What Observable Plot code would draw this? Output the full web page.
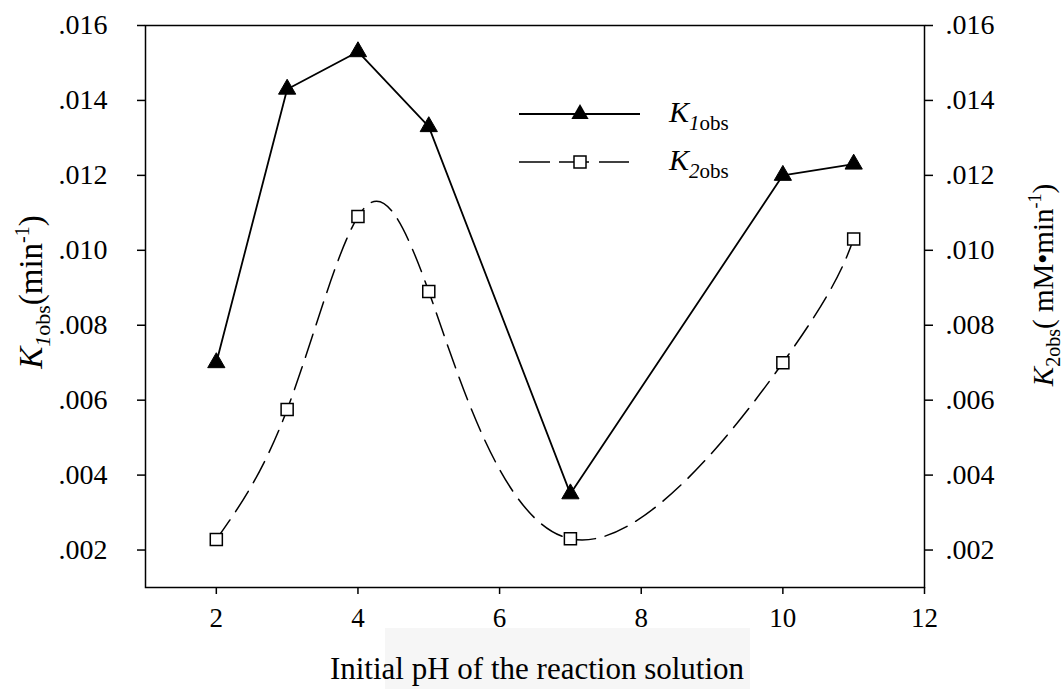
<!DOCTYPE html>
<html>
<head>
<meta charset="utf-8">
<script src="https://cdn.jsdelivr.net/npm/d3@7"></script>
<script src="https://cdn.jsdelivr.net/npm/@observablehq/plot@0.6"></script>
<style>
  html, body { margin: 0; padding: 0; background: #fff; }
  #chart { width: 1064px; height: 689px; }
</style>
</head>
<body>
<div id="chart"></div>
<script>
// ---- data ----
const phValues = [2, 3, 4, 5, 7, 10, 11];
const k1obs = [0.0070, 0.0143, 0.0153, 0.0133, 0.0035, 0.0120, 0.0123];
const k2obs = [0.00228, 0.00575, 0.0109, 0.0089, 0.0023, 0.0070, 0.0103];
const xTicks = [2, 4, 6, 8, 10, 12];
const yTicks = [0.002, 0.004, 0.006, 0.008, 0.010, 0.012, 0.014, 0.016];
const xTitle = "Initial pH of the reaction solution";

const rows1 = phValues.map((x, i) => ({x, y: k1obs[i]}));
const rows2 = phValues.map((x, i) => ({x, y: k2obs[i]}));
const fmt = d => d3.format(".3f")(d).replace(/^0/, "");
const FONT = "'Liberation Serif', 'Times New Roman', Times, serif";

const chart = Plot.plot({
  width: 1064,
  height: 689,
  marginLeft: 145,
  marginRight: 140,
  marginTop: 25,
  marginBottom: 102,
  style: {fontFamily: FONT, fontSize: "27px", color: "#000", background: "#fff"},
  x: {domain: [1, 12]},
  y: {domain: [0.001, 0.016]},
  marks: [
    Plot.axisX({ticks: xTicks, tickSize: 7, tickPadding: 13, label: null, tickFormat: d => String(d), strokeWidth: 1.5}),
    Plot.axisY({anchor: "left", ticks: yTicks, tickSize: 8, tickPadding: 30, label: null, tickFormat: fmt, strokeWidth: 1.5, fontSize: 28}),
    Plot.axisY({anchor: "right", ticks: yTicks, tickSize: 8, tickPadding: 13, label: null, tickFormat: fmt, strokeWidth: 1.5, fontSize: 28}),
    Plot.frame({stroke: "#000", strokeWidth: 1.5}),
    Plot.line(rows2, {x: "x", y: "y", curve: "natural", stroke: "#000", strokeWidth: 1.5, strokeDasharray: "24,10"}),
    Plot.line(rows1, {x: "x", y: "y", stroke: "#000", strokeWidth: 1.8}),
    Plot.dot(rows1, {x: "x", y: "y", symbol: "triangle", r: 6.4, fill: "#000", stroke: "#000", strokeWidth: 1}),
    Plot.dot(rows2, {x: "x", y: "y", symbol: "square", r: 6.8, fill: "#fff", stroke: "#000", strokeWidth: 1.5})
  ]
});
document.getElementById("chart").appendChild(chart);

// ---- titles and legend (rich text with sub/superscripts) ----
const svg = d3.select(chart);

// faint background smudge behind the x title (as in the scanned source)
svg.insert("rect", ":first-child")
  .attr("x", 385).attr("y", 628).attr("width", 365).attr("height", 61)
  .attr("fill", "#f6f6f6");

// x axis title
svg.append("text")
  .attr("x", 537).attr("y", 679)
  .attr("text-anchor", "middle")
  .attr("font-family", FONT).attr("font-size", 31)
  .text(xTitle);

// left y title
const lt = svg.append("text")
  .attr("transform", "translate(42,292) rotate(-90)")
  .attr("text-anchor", "middle")
  .attr("font-family", FONT).attr("font-size", 33);
lt.append("tspan").attr("font-style", "italic").text("K");
lt.append("tspan").attr("font-size", 22).attr("dy", 8).attr("font-style", "italic").text("1");
lt.append("tspan").attr("font-size", 22).text("obs");
lt.append("tspan").attr("dy", -8).text("(min");
lt.append("tspan").attr("font-size", 20).attr("dy", -13).text("-1");
lt.append("tspan").attr("dy", 13).text(")");

// right y title
const rt = svg.append("text")
  .attr("transform", "translate(1053,285) rotate(-90)")
  .attr("text-anchor", "middle")
  .attr("font-family", FONT).attr("font-size", 29);
rt.append("tspan").attr("font-style", "italic").text("K");
rt.append("tspan").attr("font-size", 20).attr("dy", 7).text("2obs");
rt.append("tspan").attr("dy", -7).text("( mM\u2022min");
rt.append("tspan").attr("font-size", 18).attr("dy", -12).text("-1");
rt.append("tspan").attr("dy", 12).text(")");

// legend
const lg = svg.append("g");
lg.append("line").attr("x1", 519).attr("x2", 640).attr("y1", 114).attr("y2", 114)
  .attr("stroke", "#000").attr("stroke-width", 1.8);
lg.append("path").attr("d", d3.symbol(d3.symbolTriangle, Math.PI * 6.4 * 6.4)())
  .attr("transform", "translate(580,114)").attr("fill", "#000");
[[519, 550], [559, 589], [599, 629]].forEach(([a, b]) =>
  lg.append("line").attr("x1", a).attr("x2", b).attr("y1", 162).attr("y2", 162)
    .attr("stroke", "#000").attr("stroke-width", 1.5));
lg.append("rect").attr("x", 574).attr("y", 156).attr("width", 12).attr("height", 12)
  .attr("fill", "#fff").attr("stroke", "#000").attr("stroke-width", 1.5);

function legendLabel(y, sub) {
  const t = lg.append("text").attr("x", 669).attr("y", y)
    .attr("text-anchor", "start")
    .attr("font-family", FONT).attr("font-size", 30);
  t.append("tspan").attr("font-style", "italic").text("K");
  t.append("tspan").attr("font-size", 21).attr("dy", 8).attr("font-style", "italic").text(sub);
  t.append("tspan").attr("font-size", 21).text("obs");
}
legendLabel(122, "1");
legendLabel(170, "2");
</script>
</body>
</html>
